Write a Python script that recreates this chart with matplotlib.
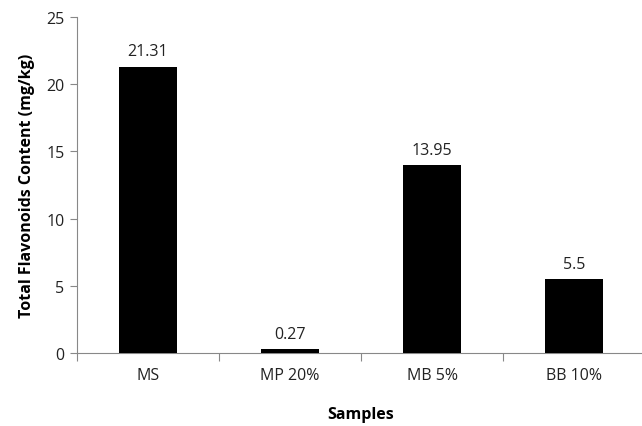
import matplotlib
matplotlib.use("Agg")
import matplotlib.pyplot as plt
import numpy as np

categories = ["MS", "MP 20%", "MB 5%", "BB 10%"]
values = [21.31, 0.27, 13.95, 5.5]
labels = ["21.31", "0.27", "13.95", "5.5"]
yticks = [0, 5, 10, 15, 20, 25]

plt.rcParams['font.family'] = ['Open Sans', 'DejaVu Sans']
fs = 11.5

fig = plt.figure(figsize=(6.42, 4.27), dpi=100)
ax = fig.add_axes([0.12, 0.171, 0.885, 0.787])

x = np.arange(len(categories))
ax.bar(x, values, width=0.41, color="black", zorder=3)
for xi, v, lab in zip(x, values, labels):
    ax.text(xi, v + 0.55, lab, ha="center", va="bottom", fontsize=fs, color="#222222")

ax.set_xlim(-0.5, len(categories) - 0.5)
ax.set_ylim(0, 25)
ax.set_yticks(yticks)
ax.set_xticks(x)
ax.set_xticklabels(categories)
ax.set_xticks(np.arange(-0.5, len(categories) - 0.5 + 0.01, 1.0), minor=True)
ax.tick_params(axis="x", which="major", length=0, pad=10, labelsize=fs, colors="#222222")
ax.tick_params(axis="x", which="minor", length=6, color="#888888", width=0.8)
ax.tick_params(axis="y", length=5, color="#888888", width=0.8, labelsize=fs, labelcolor="#222222", pad=4)

for s in ["top", "right"]:
    ax.spines[s].set_visible(False)
for s in ["left", "bottom"]:
    ax.spines[s].set_color("#888888")
    ax.spines[s].set_linewidth(0.8)

ax.set_xlabel("Samples", fontsize=fs, fontweight="bold", labelpad=17)
ax.set_ylabel("Total Flavonoids Content (mg/kg)", fontsize=fs, fontweight="bold", labelpad=8)

fig.savefig("out.png", dpi=100)
